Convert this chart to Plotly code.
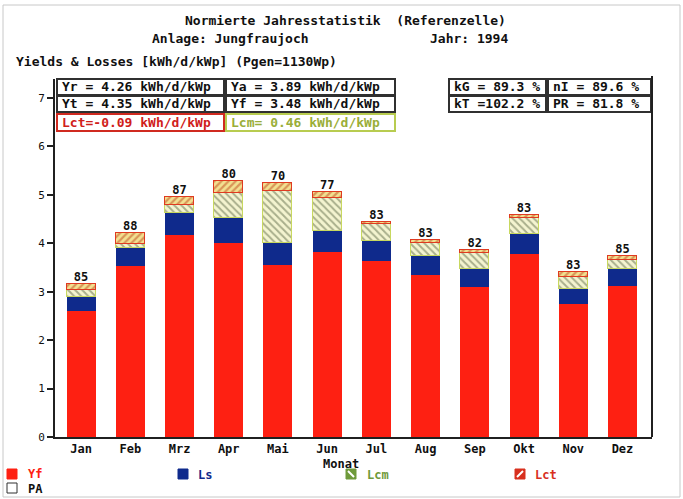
import plotly.graph_objects as go

months = ["Jan", "Feb", "Mrz", "Apr", "Mai", "Jun", "Jul", "Aug", "Sep", "Okt", "Nov", "Dez"]
Yf  = [2.61, 3.52, 4.16, 4.01, 3.55, 3.81, 3.64, 3.35, 3.09, 3.77, 2.75, 3.11]
Ls  = [0.27, 0.38, 0.47, 0.51, 0.46, 0.45, 0.41, 0.38, 0.38, 0.42, 0.31, 0.36]
Lcm = [0.15, 0.09, 0.15, 0.52, 1.06, 0.67, 0.34, 0.27, 0.33, 0.34, 0.24, 0.19]
Lct = [0.13, 0.22, 0.17, 0.25, 0.18, 0.12, 0.04, 0.07, 0.06, 0.05, 0.10, 0.08]
PR  = [85, 88, 87, 80, 70, 77, 83, 83, 82, 83, 83, 85]

row1 = ["Yr = 4.26 kWh/d/kWp", "Ya = 3.89 kWh/d/kWp", "kG = 89.3 %", "nI = 89.6 %"]
row2 = ["Yt = 4.35 kWh/d/kWp", "Yf = 3.48 kWh/d/kWp", "kT =102.2 %", "PR = 81.8 %"]
row3 = ["Lct=-0.09 kWh/d/kWp", "Lcm= 0.46 kWh/d/kWp"]

W, H = 683, 499
L, R, T, B = 55, 652, 79, 437
FONT = "DejaVu Sans Mono"

def px(x):
    return (x - L) / (R - L)

def py(y):
    return (B - y) / (B - T)

RED = "#fe2012"
BLUE = "#0f2a8c"
GREEN = "#6f9a3a"
LCTRED = "#d8301e"

tops = [a + b + c + d for a, b, c, d in zip(Yf, Ls, Lcm, Lct)]

fig = go.Figure()
bw = 0.59
fig.add_trace(go.Bar(x=months, y=Yf, width=bw, marker=dict(color=RED, line=dict(width=0)), showlegend=False))
fig.add_trace(go.Bar(x=months, y=Ls, width=bw, marker=dict(color=BLUE, line=dict(width=0)), showlegend=False))
fig.add_trace(go.Bar(x=months, y=Lcm, width=bw,
                     marker=dict(color="#f4f4d0", line=dict(color="#c8d860", width=1),
                                 pattern=dict(shape="\\", fgcolor="#5e6a48", bgcolor="#f4f4d0", size=5, solidity=0.4)),
                     showlegend=False))
fig.add_trace(go.Bar(x=months, y=Lct, width=bw,
                     marker=dict(color="#f2e090", line=dict(color="#e03a20", width=1),
                                 pattern=dict(shape="/", fgcolor="#c04a20", bgcolor="#f2e090", size=5, solidity=0.45)),
                     showlegend=False))
fig.add_trace(go.Scatter(x=months, y=tops, mode="text", text=["<b>" + str(v) + "</b>" for v in PR],
                         textposition="top center", cliponaxis=False,
                         textfont=dict(family=FONT, size=12, color="#101010"), showlegend=False))

shapes = []
ann = []

def box(x0, x1, y0, y1, text, color, tcolor):
    shapes.append(dict(type="rect", xref="paper", yref="paper", x0=px(x0), x1=px(x1), y0=py(y1), y1=py(y0),
                       line=dict(color=color, width=2), fillcolor="white", layer="above"))
    ann.append(dict(xref="paper", yref="paper", x=px(x0 + 3), y=py((y0 + y1) / 2), xanchor="left", yanchor="middle",
                    text="<b>" + text + "</b>", showarrow=False, font=dict(family=FONT, size=13, color=tcolor)))

cols = [(57, 224), (226, 395), (449, 546), (548, 651)]
for (x0, x1), t in zip(cols, row1):
    box(x0, x1, 79, 95, t, "#303030", "#101010")
for (x0, x1), t in zip(cols, row2):
    box(x0, x1, 96, 112, t, "#303030", "#101010")
box(57, 224, 114, 131, row3[0], "#d02a20", "#d0201a")
box(226, 395, 114, 131, row3[1], "#b8cc50", "#9aae38")

# right frame line
shapes.append(dict(type="line", xref="paper", yref="paper", x0=px(652), x1=px(652), y0=py(437), y1=py(76),
                   line=dict(color="#202020", width=2)))
# outer light frame
shapes.append(dict(type="rect", xref="paper", yref="paper", x0=px(3), x1=px(680), y0=py(497), y1=py(5),
                   line=dict(color="#c8c8c8", width=1)))

def text(x, y, s, color="#101010", size=13, anchor="left"):
    ann.append(dict(xref="paper", yref="paper", x=px(x), y=py(y), xanchor=anchor, yanchor="middle",
                    text="<b>" + s + "</b>", showarrow=False, font=dict(family=FONT, size=size, color=color)))

text(345, 20, "Normierte Jahresstatistik  (Referenzelle)")
ann[-1]["xanchor"] = "center"
text(150, 39, "Anlage: Jungfraujoch")
text(428, 39, "Jahr: 1994")
text(14, 61, "Yields & Losses [kWh/d/kWp] (Pgen=1130Wp)")
text(341, 464, "Monat", size=12, anchor="center")

# legend
def sq(x0, y0, fill, line):
    shapes.append(dict(type="rect", xref="paper", yref="paper", x0=px(x0), x1=px(x0 + 10), y0=py(y0 + 10), y1=py(y0),
                       line=dict(color=line, width=1), fillcolor=fill))

sq(7, 469, RED, RED)
text(26, 474, "Yf", RED, size=12)
sq(7, 483, "white", "#303030")
text(26, 489, "PA", "#101010", size=12)
sq(178, 469, BLUE, BLUE)
text(196, 475, "Ls", BLUE, size=12)
sq(346, 469, GREEN, GREEN)
shapes.append(dict(type="line", xref="paper", yref="paper", x0=px(348), x1=px(354), y0=py(471), y1=py(477),
                   line=dict(color="white", width=2)))
text(365, 475, "Lcm", GREEN, size=12)
sq(515, 469, LCTRED, LCTRED)
shapes.append(dict(type="line", xref="paper", yref="paper", x0=px(517), x1=px(523), y0=py(477), y1=py(471),
                   line=dict(color="white", width=2)))
text(533, 475, "Lct", LCTRED, size=12)

fig.update_layout(
    width=W, height=H, margin=dict(l=L, r=W - R, t=T, b=H - B, pad=0),
    paper_bgcolor="white", plot_bgcolor="white", barmode="stack", bargap=0,
    shapes=shapes, annotations=ann,
    font=dict(family=FONT, color="#101010"),
)
fig.update_xaxes(type="category", range=[-0.53, 11.6], showline=True, linecolor="#202020", linewidth=2,
                 showgrid=False, ticks="", tickfont=dict(family=FONT, size=12, color="#101010"),
                 tickprefix="<b>", ticksuffix="</b>", zeroline=False, ticklabelstandoff=0)
fig.update_yaxes(range=[0, 7.39], tickvals=[0, 1, 2, 3, 4, 5, 6, 7], showline=True, linecolor="#202020",
                 linewidth=2, showgrid=False, ticks="outside", ticklen=6, tickwidth=1.5, tickcolor="#202020",
                 tickfont=dict(family=FONT, size=11, color="#101010"), tickprefix="<b>", ticksuffix="</b>",
                 zeroline=False)

fig.write_html("out.html")
